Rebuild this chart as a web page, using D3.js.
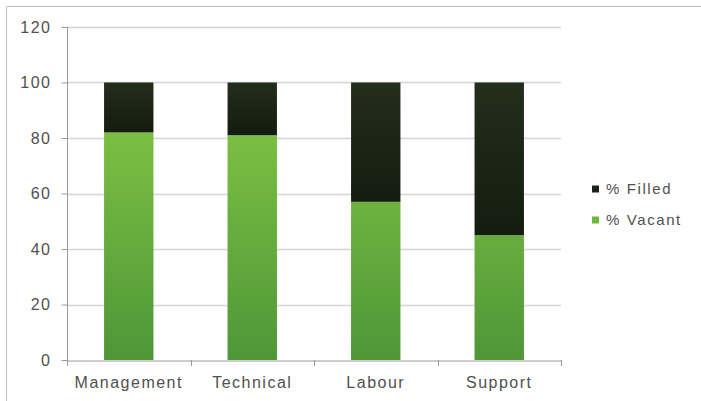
<!DOCTYPE html>
<html><head><meta charset="utf-8">
<script src="https://cdn.jsdelivr.net/npm/d3@7"></script>
<style>body{margin:0;background:#fff}svg{display:block}text{font-family:"Liberation Sans",Arial,sans-serif}</style>
</head><body>
<script>
const categories = ["Management", "Technical", "Labour", "Support"];
const vacant = [82, 81, 57, 45];
const filled = [18, 19, 43, 55];
const seriesNames = ["% Filled", "% Vacant"];
const yTicks = [0, 20, 40, 60, 80, 100, 120];

const W = 701, H = 401;
const svg = d3.select("body").append("svg").attr("width", W).attr("height", H);
const defs = svg.append("defs");
const g1 = defs.append("linearGradient").attr("id","gV").attr("gradientUnits","userSpaceOnUse");
const g2 = defs.append("linearGradient").attr("id","gF").attr("x1",0).attr("y1",0).attr("x2",0).attr("y2",1);

// frame
svg.append("path").attr("d","M6.5,401V6.5H701").attr("fill","none").attr("stroke","#bdbdbd");

const x = d3.scaleBand().domain(categories).range([67, 561]).paddingInner(0.6).paddingOuter(0.3);
const y = d3.scaleLinear().domain([0, 120]).range([360, 27]);

g1.attr("x1",0).attr("x2",0).attr("y1",y(100)).attr("y2",y(0));
g1.append("stop").attr("offset","0").attr("stop-color","#84c844");
g1.append("stop").attr("offset","1").attr("stop-color","#4f9638");
g2.append("stop").attr("offset","0").attr("stop-color","#232e1b");
g2.append("stop").attr("offset","1").attr("stop-color","#141c0f");

// gridlines
svg.append("g").selectAll("line").data(yTicks.filter(d=>d>0)).join("line")
  .attr("x1",67).attr("x2",561).attr("y1",d=>Math.round(y(d))+0.5).attr("y2",d=>Math.round(y(d))+0.5)
  .attr("stroke","#d4d4d4").attr("stroke-width",1.5);

// y axis
const ya = svg.append("g").attr("transform","translate(67.5,0)")
  .call(d3.axisLeft(y).tickValues(yTicks).tickSize(6).tickPadding(10));
ya.select(".domain").attr("stroke","#9a9a9a").attr("d","M0,"+y(120)+"V"+y(0));
ya.selectAll(".tick line").attr("stroke","#9a9a9a");
ya.selectAll("text").attr("fill","#505050").style("font-size","16px").style("letter-spacing","1.5px");

// x axis
const xa = svg.append("g").attr("transform","translate(0,"+(y(0)+0.5)+")")
  .call(d3.axisBottom(x).tickSize(0).tickPadding(16));
xa.select(".domain").attr("stroke","#9a9a9a");
xa.selectAll("text").attr("fill","#505050").style("font-size","16px").style("letter-spacing","1.5px");
svg.append("g").selectAll("line").data(d3.range(categories.length+1)).join("line")
  .attr("x1",i=>Math.round(67+i*(494/categories.length))+0.5)
  .attr("x2",i=>Math.round(67+i*(494/categories.length))+0.5)
  .attr("y1",y(0)).attr("y2",y(0)+6).attr("stroke","#9a9a9a");

// bars
const bars = svg.append("g");
bars.selectAll(".v").data(categories).join("rect")
  .attr("x",d=>x(d)).attr("width",x.bandwidth())
  .attr("y",(d,i)=>y(vacant[i])).attr("height",(d,i)=>y(0)-y(vacant[i]))
  .attr("fill","url(#gV)");
bars.selectAll(".f").data(categories).join("rect")
  .attr("x",d=>x(d)).attr("width",x.bandwidth())
  .attr("y",(d,i)=>y(vacant[i]+filled[i])).attr("height",(d,i)=>y(vacant[i])-y(vacant[i]+filled[i]))
  .attr("fill","url(#gF)");

// legend
const legColors = ["#1a2414","#6cb83e"];
const leg = svg.append("g");
seriesNames.forEach((n,i)=>{
  const yy = 189 + i*31;
  leg.append("rect").attr("x",592).attr("y",yy-3.5).attr("width",7).attr("height",7).attr("fill",legColors[i]);
  leg.append("text").attr("x",606).attr("y",yy).attr("dy","0.35em").attr("fill","#505050").style("font-size","15px").style("letter-spacing","1.6px").text(n);
});
</script>
</body></html>
